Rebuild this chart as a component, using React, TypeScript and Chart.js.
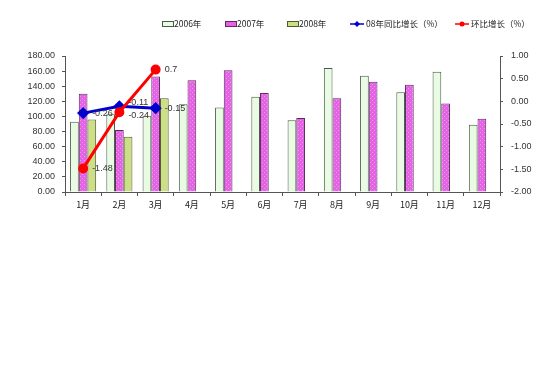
import React, { useEffect, useRef } from "react";
import { Chart, registerables } from "chart.js";

Chart.register(...registerables);

const months = ["1月", "2月", "3月", "4月", "5月", "6月", "7月", "8月", "9月", "10月", "11月", "12月"];
const values2006 = [93, 103, 101, 116, 112, 126, 95, 164, 154, 132, 159, 89];
const values2007 = [130, 82, 153, 148, 161, 131, 98, 124, 146, 142, 117, 97];
const values2008 = [96, 73, 124, null, null, null, null, null, null, null, null, null];
const yoyGrowth = [-0.26, -0.11, -0.15, null, null, null, null, null, null, null, null, null];
const momGrowth = [-1.48, -0.24, 0.7, null, null, null, null, null, null, null, null, null];
const leftTicks = [0, 20, 40, 60, 80, 100, 120, 140, 160, 180];
const rightTicks = [-2, -1.5, -1, -0.5, 0, 0.5, 1];
const legendLabels = ["2006年", "2007年", "2008年", "08年同比增长（%）", "环比增长（%）"];

const FONT = "'Liberation Sans', Arial, sans-serif";
const CJK = "'Noto Sans CJK SC', sans-serif";

const C2006 = "#EAFBE4";
const C2008 = "#CCDF86";
const B2006 = "#4A5A4A";
const B2007 = "#5E2A5E";
const B2008 = "#4E5A30";

function makePattern(): CanvasPattern | string {
  const c = document.createElement("canvas");
  c.width = 4;
  c.height = 4;
  const g = c.getContext("2d");
  if (!g) return "#E565E5";
  g.fillStyle = "#E462E4";
  g.fillRect(0, 0, 4, 4);
  g.fillStyle = "#EE98EE";
  g.fillRect(0, 0, 1, 1);
  g.fillRect(2, 2, 1, 1);
  const p = g.createPattern(c, "repeat");
  return p || "#E565E5";
}

export default function App() {
  const ref = useRef<HTMLCanvasElement | null>(null);
  useEffect(() => {
    if (!ref.current) return;
    const pattern = makePattern();

    const legendPlugin = {
      id: "customLegend",
      afterDraw(chart: any) {
        const ctx = chart.ctx;
        const items = [
          { x: 162, type: "box", fill: C2006, stroke: B2006 },
          { x: 225, type: "box", fill: "#E462E4", stroke: B2007 },
          { x: 287, type: "box", fill: C2008, stroke: B2008 },
          { x: 350, type: "line", color: "#0000CC", marker: "diamond" },
          { x: 455, type: "line", color: "#FF0000", marker: "circle" },
        ];
        const y = 24;
        ctx.save();
        items.forEach((it: any, i: number) => {
          if (it.type === "box") {
            ctx.fillStyle = it.fill;
            ctx.fillRect(it.x, y - 2, 11, 4);
            ctx.strokeStyle = it.stroke;
            ctx.lineWidth = 1;
            ctx.strokeRect(it.x + 0.5, y - 2.5, 11, 5);
          } else {
            ctx.strokeStyle = it.color;
            ctx.lineWidth = 1.5;
            ctx.beginPath();
            ctx.moveTo(it.x, y);
            ctx.lineTo(it.x + 14, y);
            ctx.stroke();
            ctx.fillStyle = it.color;
            ctx.beginPath();
            if (it.marker === "diamond") {
              ctx.moveTo(it.x + 7, y - 3);
              ctx.lineTo(it.x + 10, y);
              ctx.lineTo(it.x + 7, y + 3);
              ctx.lineTo(it.x + 4, y);
              ctx.closePath();
            } else {
              ctx.arc(it.x + 7, y, 2.5, 0, Math.PI * 2);
            }
            ctx.fill();
          }
          ctx.fillStyle = "#222";
          ctx.font = "8.5px " + CJK;
          ctx.textBaseline = "middle";
          ctx.textAlign = "left";
          ctx.fillText(legendLabels[i], it.x + (it.type === "box" ? 12 : 16), y);
        });
        ctx.restore();
      },
    };

    const labelPlugin = {
      id: "pointLabels",
      afterDatasetsDraw(chart: any) {
        const ctx = chart.ctx;
        ctx.save();
        ctx.font = "9px " + FONT;
        ctx.fillStyle = "#333";
        ctx.textBaseline = "middle";
        ctx.textAlign = "left";
        const dyMap: Record<number, number[]> = { 3: [0, -4, 0], 4: [0, 3, 0] };
        [3, 4].forEach((di) => {
          const meta = chart.getDatasetMeta(di);
          const data = chart.data.datasets[di].data;
          meta.data.forEach((pt: any, j: number) => {
            const v = data[j];
            if (v === null || v === undefined) return;
            ctx.fillText(String(v), pt.x + 9, pt.y + (dyMap[di][j] || 0));
          });
        });
        ctx.restore();
      },
    };

    const chart = new Chart(ref.current, {
      type: "bar",
      data: {
        labels: months,
        datasets: [
          {
            type: "bar",
            label: legendLabels[0],
            data: values2006,
            backgroundColor: C2006,
            borderColor: B2006,
            borderWidth: 1,
            yAxisID: "y",
            order: 2,
            categoryPercentage: 0.72,
            barPercentage: 1,
          },
          {
            type: "bar",
            label: legendLabels[1],
            data: values2007,
            backgroundColor: pattern as any,
            borderColor: B2007,
            borderWidth: 1,
            yAxisID: "y",
            order: 2,
            categoryPercentage: 0.72,
            barPercentage: 1,
          },
          {
            type: "bar",
            label: legendLabels[2],
            data: values2008 as any,
            backgroundColor: C2008,
            borderColor: B2008,
            borderWidth: 1,
            yAxisID: "y",
            order: 2,
            categoryPercentage: 0.72,
            barPercentage: 1,
          },
          {
            type: "line",
            label: legendLabels[3],
            data: yoyGrowth as any,
            borderColor: "#0000CC",
            backgroundColor: "#0000CC",
            borderWidth: 3,
            pointStyle: "rectRot",
            pointRadius: 4,
            yAxisID: "y1",
            order: 1,
          },
          {
            type: "line",
            label: legendLabels[4],
            data: momGrowth as any,
            borderColor: "#FF0000",
            backgroundColor: "#FF0000",
            borderWidth: 3,
            pointStyle: "circle",
            pointRadius: 3.5,
            yAxisID: "y1",
            order: 0,
          },
        ],
      },
      options: {
        responsive: false,
        animation: false,
        layout: { padding: { top: 56, left: 0, right: 0, bottom: 0 } },
        plugins: {
          legend: { display: false },
          tooltip: { enabled: false },
        },
        scales: {
          x: {
            offset: true,
            grid: {
              display: true,
              offset: true,
              drawOnChartArea: false,
              drawTicks: true,
              tickLength: 4,
              color: "#555",
            },
            border: { display: true, color: "#555", width: 1 },
            ticks: {
              font: { family: CJK, size: 9 },
              color: "#222",
              padding: 3,
              maxRotation: 0,
              autoSkip: false,
            },
            afterFit(scale: any) {
              scale.height = 192;
            },
          },
          y: {
            position: "left",
            min: 0,
            max: 180,
            afterBuildTicks(scale: any) {
              scale.ticks = leftTicks.map((v) => ({ value: v }));
            },
            grid: {
              drawOnChartArea: false,
              drawTicks: true,
              tickLength: 3,
              color: "#555",
            },
            border: { display: true, color: "#555", width: 1 },
            ticks: {
              font: { family: FONT, size: 9 },
              color: "#333",
              padding: 7,
              callback: (v: any) => Number(v).toFixed(2),
            },
            afterFit(scale: any) {
              scale.width = 65;
            },
          },
          y1: {
            position: "right",
            min: -2,
            max: 1,
            afterBuildTicks(scale: any) {
              scale.ticks = rightTicks.map((v) => ({ value: v }));
            },
            grid: {
              drawOnChartArea: false,
              drawTicks: true,
              tickLength: 3,
              color: "#555",
            },
            border: { display: true, color: "#555", width: 1 },
            ticks: {
              font: { family: FONT, size: 9 },
              color: "#333",
              padding: 8,
              callback: (v: any) => Number(v).toFixed(2),
            },
            afterFit(scale: any) {
              scale.width = 43;
            },
          },
        },
      },
      plugins: [legendPlugin, labelPlugin],
    });
    return () => chart.destroy();
  }, []);

  return (
    <div style={{ position: "absolute", left: 0, top: 0, width: 543, height: 384, background: "#fff" }}>
      <canvas ref={ref} width={543} height={384} style={{ display: "block" }} />
    </div>
  );
}
